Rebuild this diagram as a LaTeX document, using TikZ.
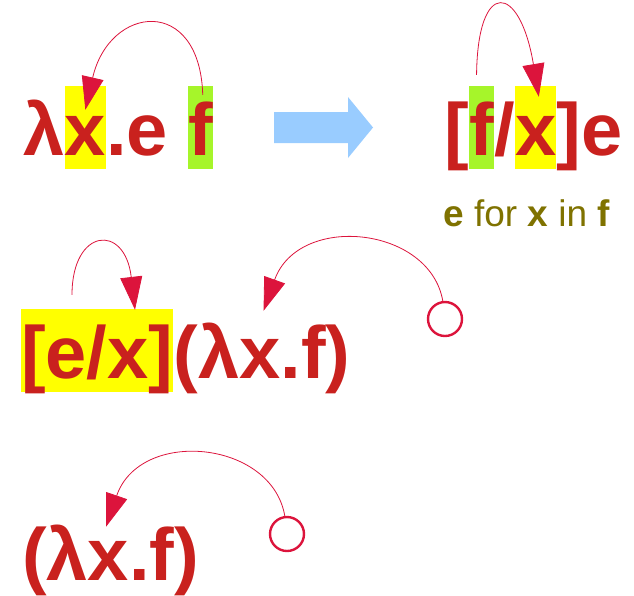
\documentclass[tikz,border=0pt]{standalone}
\usepackage{fontspec}
\setmainfont{Liberation Sans}
\usetikzlibrary{arrows.meta,positioning,calc}
\definecolor{TermRed}{HTML}{C9211E}
\definecolor{LinkRed}{HTML}{DC143C}
\definecolor{HiYellow}{HTML}{FFFF00}
\definecolor{HiGreen}{HTML}{A6F52A}
\definecolor{Sky}{HTML}{99CCFF}
\definecolor{Olive}{HTML}{7F7200}
\newcommand{\termfont}{\fontsize{74}{80}\selectfont\bfseries}
\newcommand{\notefont}{\fontsize{37}{40}\selectfont}

\begin{document}
\begin{tikzpicture}[
  x=1pt,y=-1pt,
  term/.style={font=\termfont,text=TermRed,inner sep=0pt,anchor=base west,text height=69pt,text depth=14pt},
  hlx/.style={term,fill=HiYellow},
  hlf/.style={term,fill=HiGreen},
  note/.style={font=\notefont,text=Olive,inner sep=0pt,anchor=base west},
  link/.style={draw=LinkRed,line width=0.8pt,-{Triangle[length=33pt,width=22pt]}},
  ring/.style={circle,draw=LinkRed,line width=2.4pt,minimum size=34pt,inner sep=0pt}
]
\useasboundingbox (0,0) rectangle (634,595);
% beta redex
\node[term] (lamA) at (23,155) {λ};
\node[hlx] (xA) at (lamA.base east) {x};
\node[term] (eA) at (xA.base east) {.e};
\node[hlf] (fA) at ($(eA.base east)+(20,0)$) {f};
% big arrow
\fill[Sky] (274,112) -- (348,112) -- (348,97) -- (373,127.5) -- (348,158) -- (348,143) -- (274,143) -- cycle;
% substitution
\node[term] (brA) at (444,155) {[};
\node[hlf] (fB) at (brA.base east) {f};
\node[term] (slA) at (fB.base east) {/};
\node[hlx] (xB) at (slA.base east) {x};
\node[term] (ketA) at (xB.base east) {]e};
\node[note] (note) at (443,226) {\textbf{e} for \textbf{x} in \textbf{f}};
% second row
\node[hlx] (subC) at (21,378) {[e/x]};
\node[term] (absC) at (subC.base east) {(λx.f)};
\node[ring] (ringC) at (445,319) {};
% third row
\node[term] (absD) at (22,580) {(λx.f)};
\node[ring] (ringD) at (287,534) {};
% connector ends
\coordinate (tipA) at ($(xA.north)+(0,24)$);
\coordinate (tipB) at ($(xB.north)+(3,11)$);
\coordinate (tipC) at ($(subC.north west)+(114,1)$);
\coordinate (tipD) at ($(absC.north west)+(90,2)$);
\coordinate (tipE) at ($(absD.north west)+(84,16)$);
\coordinate (fromC) at ($(subC.north west)+(51,-14)$);
\draw[link] ($(fA.north)+(2,9)$) .. controls +(-3,-100) and +(24,-105) .. (tipA);
\draw[link] ($(fB.north)+(-5,-11)$) .. controls +(1,-97) and +(-19,-114) .. (tipB);
\draw[link] (fromC) .. controls +(0,-67) and +(-10,-87) .. (tipC);
\draw[link] (ringC.97) .. controls +(-13,-75) and +(35,-98) .. (tipD);
\draw[link] (ringD.97) .. controls +(-13,-76) and +(34,-99) .. (tipE);
\end{tikzpicture}
\end{document}
